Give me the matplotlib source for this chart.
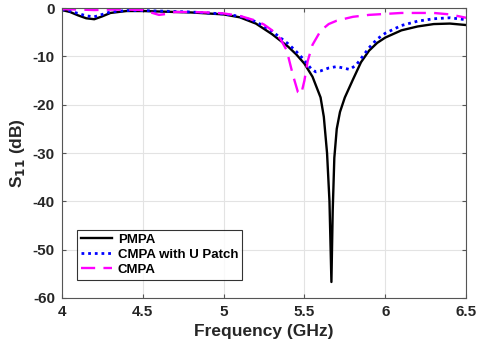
import numpy as np
import matplotlib
matplotlib.use("Agg")
import matplotlib.pyplot as plt

plt.rcParams['font.family'] = ['Liberation Sans', 'DejaVu Sans']
plt.rcParams['font.weight'] = 'bold'
plt.rcParams['axes.unicode_minus'] = False

# PMPA (black solid)
f_pmpa = [4.0, 4.05, 4.1, 4.15, 4.2, 4.25, 4.3, 4.4, 4.5, 4.6, 4.7, 4.8, 4.9, 5.0, 5.1, 5.2,
          5.3, 5.4, 5.45, 5.5, 5.55, 5.6, 5.62, 5.64, 5.655, 5.667, 5.675, 5.685, 5.7, 5.72,
          5.75, 5.8, 5.85, 5.9, 5.95, 6.0, 6.1, 6.2, 6.3, 6.4, 6.5]
s_pmpa = [-0.4, -0.8, -1.5, -2.1, -2.3, -1.7, -1.0, -0.6, -0.6, -0.7, -0.8, -0.9, -1.1, -1.3, -1.9, -3.2,
          -5.4, -8.0, -9.6, -11.5, -14.2, -18.5, -22.5, -30.0, -40.0, -56.7, -42.0, -31.0, -25.0, -21.5,
          -18.5, -14.8, -11.2, -8.8, -7.2, -6.1, -4.6, -3.8, -3.3, -3.2, -3.5]

# CMPA with U Patch (blue dotted)
f_upatch = [4.0, 4.05, 4.1, 4.15, 4.2, 4.25, 4.3, 4.4, 4.5, 4.6, 4.7, 4.8, 4.9, 5.0, 5.1, 5.2,
            5.3, 5.4, 5.45, 5.5, 5.54, 5.57, 5.6, 5.65, 5.7, 5.74, 5.78, 5.82, 5.86, 5.9,
            5.95, 6.0, 6.1, 6.2, 6.3, 6.4, 6.5]
s_upatch = [-0.3, -0.6, -1.1, -1.6, -1.8, -1.3, -0.8, -0.5, -0.5, -0.6, -0.7, -0.8, -1.0, -1.2, -1.7, -2.8,
            -4.8, -7.4, -9.0, -10.8, -12.5, -13.2, -13.0, -12.4, -12.1, -12.4, -12.7, -11.8, -10.0, -8.2,
            -6.4, -5.2, -3.6, -2.7, -2.2, -2.0, -2.4]

# CMPA (magenta dashed)
f_cmpa = [4.0, 4.1, 4.2, 4.3, 4.4, 4.5, 4.55, 4.6, 4.65, 4.7, 4.8, 4.9, 5.0, 5.1, 5.2, 5.25,
          5.3, 5.35, 5.39, 5.43, 5.46, 5.48, 5.5, 5.52, 5.55, 5.6, 5.65, 5.7, 5.8, 5.9,
          6.0, 6.1, 6.2, 6.3, 6.4, 6.5]
s_cmpa = [-0.2, -0.3, -0.4, -0.3, -0.3, -0.4, -0.9, -1.4, -1.2, -0.8, -0.8, -0.9, -1.1, -1.6, -2.6, -3.4,
          -4.6, -6.3, -8.7, -14.0, -17.4, -17.8, -15.0, -11.0, -7.6, -4.7, -3.3, -2.6, -1.8, -1.4,
          -1.2, -1.0, -1.0, -1.0, -1.3, -2.0]

fig = plt.figure(figsize=(4.8, 3.53), dpi=100)
ax = fig.add_axes([0.129, 0.156, 0.842, 0.821])

ax.plot(f_pmpa, s_pmpa, color='black', lw=1.7, ls='-', label='PMPA')
ax.plot(f_upatch, s_upatch, color='blue', lw=2.0, ls=(0, (1, 1.4)), label='CMPA with U Patch')
ax.plot(f_cmpa, s_cmpa, color='magenta', lw=1.7, ls=(0, (6, 3.5)), label='CMPA')

ax.set_xlim(4, 6.5)
ax.set_ylim(-60, 0)
ax.set_xticks([4, 4.5, 5, 5.5, 6, 6.5])
ax.set_xticklabels(['4', '4.5', '5', '5.5', '6', '6.5'])
ax.set_yticks([-60, -50, -40, -30, -20, -10, 0])
ax.grid(True, color='#e3e3e3', lw=0.8)
ax.tick_params(direction='in', top=True, right=True, labelsize=11, length=3,
               color='#555555', labelcolor='#262626', pad=5)
for sp in ax.spines.values():
    sp.set_color('#555555')
    sp.set_linewidth(0.8)

ax.set_xlabel('Frequency (GHz)', fontsize=12.5, fontweight='bold', labelpad=4, color='#262626')
ax.set_ylabel('S$_{\\mathbf{11}}$ (dB)', fontsize=12.5, fontweight='bold', labelpad=4, color='#262626')

leg = ax.legend(loc='lower left', bbox_to_anchor=(0.037, 0.062), fontsize=9.5, frameon=True,
                fancybox=False, edgecolor='black', handlelength=2.4, borderpad=0.3,
                labelspacing=0.22, handletextpad=0.4, borderaxespad=0)
leg.get_frame().set_linewidth(0.8)
for t in leg.get_texts():
    t.set_fontweight('bold')

fig.savefig('out.png', dpi=100)
